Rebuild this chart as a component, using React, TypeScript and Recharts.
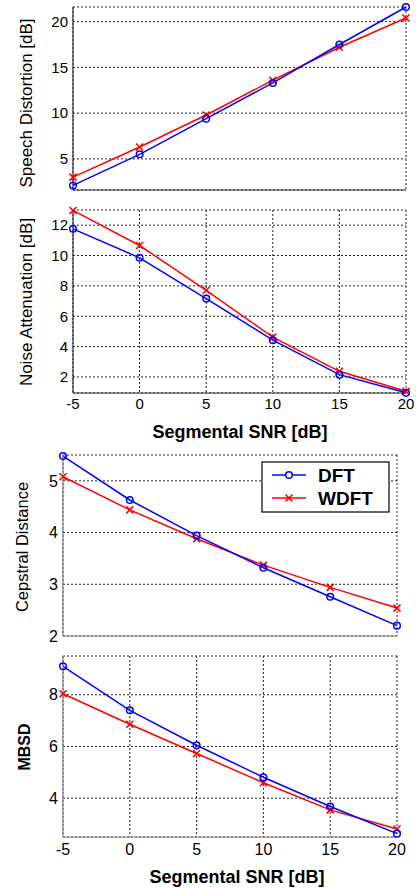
import React from 'react';
import { LineChart, Line, XAxis, YAxis, CartesianGrid } from 'recharts';

const FONT = '"Liberation Sans", Arial, sans-serif';

const snr = [-5, 0, 5, 10, 15, 20];
const xTicks = [-5, 0, 5, 10, 15, 20];
const seriesNames = ['DFT', 'WDFT'];

// speech distortion [dB]
const sdDft = [2.1, 5.5, 9.4, 13.3, 17.5, 21.6];
const sdWdft = [3.0, 6.3, 9.8, 13.6, 17.2, 20.4];
const sdTicks = [5, 10, 15, 20];

// noise attenuation [dB]
const naDft = [11.76, 9.85, 7.16, 4.42, 2.15, 0.95];
const naWdft = [12.97, 10.66, 7.71, 4.62, 2.37, 1.05];
const naTicks = [2, 4, 6, 8, 10, 12];

// cepstral distance
const cdDft = [5.48, 4.63, 3.94, 3.32, 2.76, 2.2];
const cdWdft = [5.08, 4.44, 3.88, 3.37, 2.94, 2.54];
const cdTicks = [2, 3, 4, 5];

// MBSD
const mbDft = [9.1, 7.4, 6.05, 4.81, 3.68, 2.63];
const mbWdft = [8.04, 6.86, 5.73, 4.6, 3.55, 2.81];
const mbTicks = [4, 6, 8];

const BLUE = '#0000ff';
const RED = '#ff0000';

function XMark(props: any) {
  const { cx, cy, index } = props;
  if (cx == null || cy == null) return <g key={index} />;
  const s = 3.5;
  return (
    <path
      key={index}
      d={`M${cx - s},${cy - s}L${cx + s},${cy + s}M${cx - s},${cy + s}L${cx + s},${cy - s}`}
      stroke={RED}
      strokeWidth={1.6}
      fill="none"
    />
  );
}

type PanelProps = {
  top: number;
  boxTop: number;
  boxBottom: number;
  boxLeft: number;
  boxRight: number;
  dft: number[];
  wdft: number[];
  domain: [number, number];
  yTicks: number[];
  showX: boolean;
  frame: string;
  tickSize: number;
  xTickGap: number;
};

function Panel(p: PanelProps) {
  const data = snr.map((x, i) => ({ x, dft: p.dft[i], wdft: p.wdft[i] }));
  // room below the box: tick labels, or just enough for a y label at the bottom edge
  const xH = p.showX ? 30 : 12;
  const tickStyle = { fontSize: p.tickSize, fontFamily: FONT, fill: '#000' };
  return (
    <div style={{ position: 'absolute', left: 0, top: p.top }}>
      <LineChart
        width={416}
        height={p.boxBottom - p.top + xH}
        data={data}
        margin={{ top: p.boxTop - p.top, right: 416 - p.boxRight, bottom: 0, left: 0 }}
      >
        <CartesianGrid stroke="#222" strokeDasharray="2 2" strokeWidth={1} />
        <XAxis
          dataKey="x"
          type="number"
          domain={[-5, 20]}
          ticks={xTicks}
          interval={0}
          height={xH}
          tick={p.showX ? tickStyle : false}
          tickLine={false}
          tickSize={0}
          tickMargin={p.xTickGap}
          axisLine={{ stroke: p.frame, strokeWidth: 1.2 }}
        />
        <XAxis
          xAxisId="top"
          orientation="top"
          dataKey="x"
          type="number"
          domain={[-5, 20]}
          height={0}
          tick={false}
          tickLine={false}
          axisLine={{ stroke: p.frame, strokeWidth: 1.2 }}
        />
        <YAxis
          type="number"
          domain={p.domain}
          ticks={p.yTicks}
          interval={0}
          width={p.boxLeft}
          tick={tickStyle}
          tickLine={false}
          tickSize={0}
          tickMargin={5}
          axisLine={{ stroke: p.frame, strokeWidth: 1.2 }}
        />
        <YAxis
          yAxisId="right"
          orientation="right"
          type="number"
          domain={p.domain}
          width={0}
          tick={false}
          tickLine={false}
          axisLine={{ stroke: p.frame, strokeWidth: 1.2 }}
        />
        <Line
          dataKey="wdft"
          name={seriesNames[1]}
          stroke={RED}
          strokeWidth={1.5}
          dot={<XMark />}
          activeDot={false}
          isAnimationActive={false}
        />
        <Line
          dataKey="dft"
          name={seriesNames[0]}
          stroke={BLUE}
          strokeWidth={1.5}
          dot={{ r: 3.3, stroke: BLUE, strokeWidth: 1.5, fill: 'none' }}
          activeDot={false}
          isAnimationActive={false}
        />
      </LineChart>
    </div>
  );
}

function VLabel({ text, x, y, size, bold }: { text: string; x: number; y: number; size: number; bold?: boolean }) {
  return (
    <div
      style={{
        position: 'absolute',
        left: x,
        top: y,
        transform: 'translate(-50%, -50%) rotate(-90deg)',
        whiteSpace: 'nowrap',
        fontFamily: FONT,
        fontSize: size,
        fontWeight: bold ? 'bold' : 'normal',
        lineHeight: 1,
        color: '#000',
      }}
    >
      {text}
    </div>
  );
}

function XTitle({ x, y }: { x: number; y: number }) {
  return (
    <div
      style={{
        position: 'absolute',
        left: x,
        top: y,
        transform: 'translate(-50%, -50%)',
        whiteSpace: 'nowrap',
        fontFamily: FONT,
        fontSize: 18,
        fontWeight: 'bold',
        lineHeight: 1,
        color: '#000',
      }}
    >
      Segmental SNR [dB]
    </div>
  );
}

function LegendBox() {
  return (
    <svg width={129} height={52} style={{ position: 'absolute', left: 261, top: 461 }}>
      <rect x={1} y={1} width={127} height={50} fill="#fff" stroke="#000" strokeWidth={1.2} />
      <line x1={11} x2={45} y1={14} y2={14} stroke={BLUE} strokeWidth={1.5} />
      <circle cx={28} cy={14} r={3.3} stroke={BLUE} strokeWidth={1.5} fill="#fff" />
      <text x={57} y={14} dy="0.36em" fontFamily={FONT} fontWeight="bold" fontSize={19}>{seriesNames[0]}</text>
      <line x1={11} x2={45} y1={37} y2={37} stroke={RED} strokeWidth={1.5} />
      <path d="M24.5,33.5L31.5,40.5M24.5,40.5L31.5,33.5" stroke={RED} strokeWidth={1.6} />
      <text x={57} y={37} dy="0.36em" fontFamily={FONT} fontWeight="bold" fontSize={19}>{seriesNames[1]}</text>
    </svg>
  );
}

export default function App() {
  return (
    <div style={{ position: 'absolute', left: 0, top: 0, width: 416, height: 888, background: '#fff', overflow: 'hidden' }}>
      <Panel top={0} boxTop={7} boxBottom={190} boxLeft={73} boxRight={406}
        dft={sdDft} wdft={sdWdft} domain={[1.6, 21.6]} yTicks={sdTicks}
        showX={false} frame="#333" tickSize={15} xTickGap={5} />
      <Panel top={200} boxTop={210} boxBottom={393} boxLeft={73} boxRight={406}
        dft={naDft} wdft={naWdft} domain={[0.94, 13]} yTicks={naTicks}
        showX={true} frame="#333" tickSize={15} xTickGap={5} />
      <Panel top={445} boxTop={455} boxBottom={636} boxLeft={63} boxRight={397}
        dft={cdDft} wdft={cdWdft} domain={[2, 5.5]} yTicks={cdTicks}
        showX={false} frame="#888" tickSize={16} xTickGap={5} />
      <Panel top={646} boxTop={656} boxBottom={837} boxLeft={63} boxRight={397}
        dft={mbDft} wdft={mbWdft} domain={[2.5, 9.5]} yTicks={mbTicks}
        showX={true} frame="#888" tickSize={16} xTickGap={7} />
      <VLabel text="Speech Distortion [dB]" x={26} y={103} size={17} />
      <VLabel text="Noise Attenuation [dB]" x={26} y={302} size={17} />
      <VLabel text="Cepstral Distance" x={22} y={547} size={16.5} />
      <VLabel text="MBSD" x={25} y={747} size={16} bold />
      <XTitle x={240} y={432} />
      <XTitle x={237} y={877} />
      <LegendBox />
    </div>
  );
}
